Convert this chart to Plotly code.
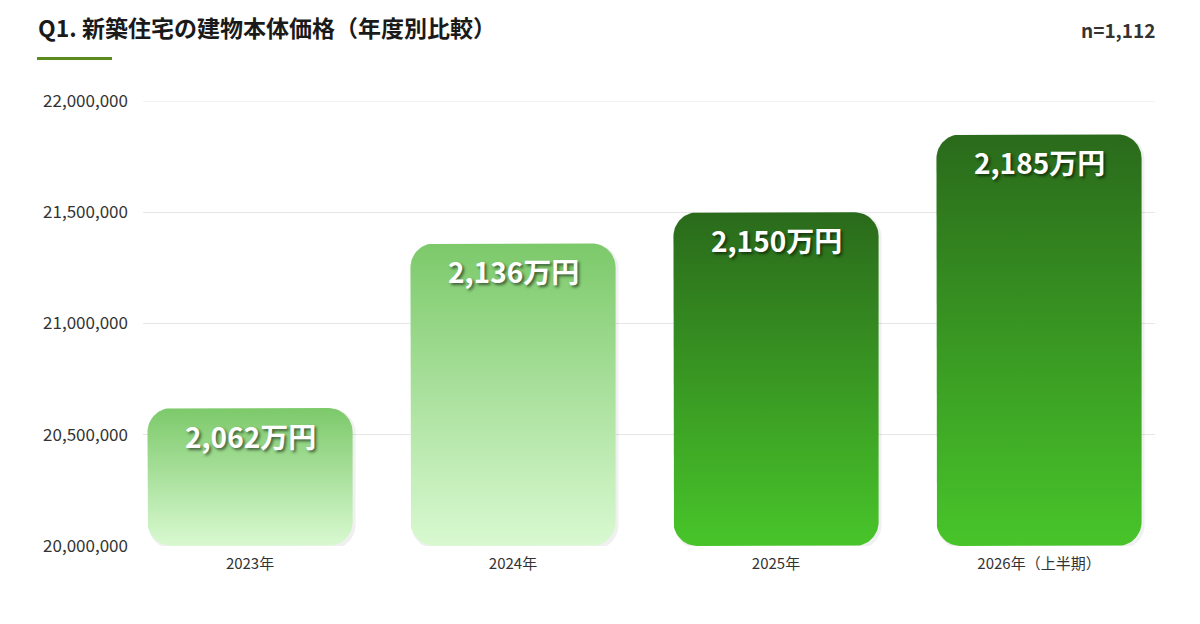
import numpy as np
import plotly.graph_objects as go

# ---- data ----
categories = ["2023年", "2024年", "2025年", "2026年（上半期）"]
values = [20620000, 21360000, 21500000, 21850000]
labels = ["2,062万円", "2,136万円", "2,150万円", "2,185万円"]
y_ticks = [20000000, 20500000, 21000000, 21500000, 22000000]
y_ticktext = ["20,000,000", "20,500,000", "21,000,000", "21,500,000", "22,000,000"]
title_text = "Q1. 新築住宅の建物本体価格（年度別比較）"
n_text = "n=1,112"

# ---- style / layout ----
W, H = 1200, 624
ML, MR, MT, MB = 143, 45, 101, 78
PW, PH = W - ML - MR, H - MT - MB
x_range = [-0.407, 3.441]
y_range = [20000000, 22000000]
bar_w = 0.78
radius_px = 24
FONT = "Noto Sans CJK JP"

light = ("#d9f9d1", "#7cc96a")   # bottom, top
dark = ("#48c52a", "#2a6a1b")
bar_colors = [light, light, dark, dark]

px_x = PW / (x_range[1] - x_range[0])
px_y = PH / (y_range[1] - y_range[0])
rx = radius_px / px_x
ry = radius_px / px_y


def rounded_rect(x0, x1, y0, y1):
    xs, ys = [], []
    corners = [
        (x1 - rx, y1 - ry, 0, 90),
        (x0 + rx, y1 - ry, 90, 180),
        (x0 + rx, y0 + ry, 180, 270),
        (x1 - rx, y0 + ry, 270, 360),
    ]
    for cx, cy, a0, a1 in corners:
        t = np.radians(np.linspace(a0, a1, 16))
        xs.extend(cx + rx * np.cos(t))
        ys.extend(cy + ry * np.sin(t))
    xs.append(xs[0])
    ys.append(ys[0])
    return xs, ys


fig = go.Figure()

for i, (v, cols) in enumerate(zip(values, bar_colors)):
    xs, ys = rounded_rect(i - bar_w / 2, i + bar_w / 2, y_range[0], v)
    # soft shadow
    sx, sy = rounded_rect(i - bar_w / 2 + 1 / px_x, i + bar_w / 2 + 3 / px_x,
                          y_range[0] - 3 / px_y, v - 1 / px_y)
    fig.add_trace(go.Scatter(x=sx, y=sy, mode="lines", fill="toself",
                             fillcolor="rgba(0,0,0,0.06)", line=dict(width=0),
                             hoverinfo="skip", showlegend=False))
    fig.add_trace(go.Scatter(
        x=xs, y=ys, mode="lines", fill="toself", line=dict(width=0),
        fillgradient=dict(type="vertical", colorscale=[[0, cols[0]], [1, cols[1]]]),
        hoverinfo="skip", showlegend=False))
    fig.add_annotation(
        x=i, y=v, xref="x", yref="y", text=labels[i], showarrow=False,
        yanchor="top", yshift=-6,
        font=dict(family=FONT, size=28, color="white", weight=700,
                  shadow="2px 2px 3px rgba(0,0,0,0.55)"))


def paper_x(px):
    return (px - ML) / PW


def paper_y(py):
    return (H - MB - py) / PH


fig.add_annotation(x=paper_x(1157), y=paper_y(30), xref="paper", yref="paper",
                   text=n_text, showarrow=False, xanchor="right", yanchor="middle",
                   font=dict(family=FONT, size=19, color="#333333", weight=700))
fig.add_shape(type="line", xref="paper", yref="paper",
              x0=paper_x(37), x1=paper_x(112), y0=paper_y(58.5), y1=paper_y(58.5),
              line=dict(color="#5b8a1e", width=3))
# top gridline (plotly omits grid at the range edge)
fig.add_shape(type="line", xref="paper", yref="y", x0=0, x1=1,
              y0=y_range[1], y1=y_range[1], line=dict(color="#e6e6e6", width=1),
              layer="below")

fig.update_layout(
    width=W, height=H,
    margin=dict(l=ML, r=MR, t=MT, b=MB, pad=0),
    paper_bgcolor="white", plot_bgcolor="white",
    font=dict(family=FONT, color="#333333"),
    title=dict(text=title_text, x=38 / W, xanchor="left", xref="container",
               y=1 - 29 / H, yanchor="middle", yref="container",
               font=dict(family=FONT, size=23, color="#1a1a1a", weight=700)),
    xaxis=dict(range=x_range, tickvals=list(range(len(categories))), ticktext=categories,
               showgrid=False, zeroline=False, showline=False,
               tickfont=dict(size=15, color="#333333"), ticklabelstandoff=7),
    yaxis=dict(range=y_range, tickvals=y_ticks, ticktext=y_ticktext,
               showgrid=True, gridcolor="#e6e6e6", gridwidth=1, zeroline=False,
               showline=False, tickfont=dict(size=17, color="#333333"),
               ticklabelstandoff=14),
    showlegend=False,
)

fig.write_html("out.html")
